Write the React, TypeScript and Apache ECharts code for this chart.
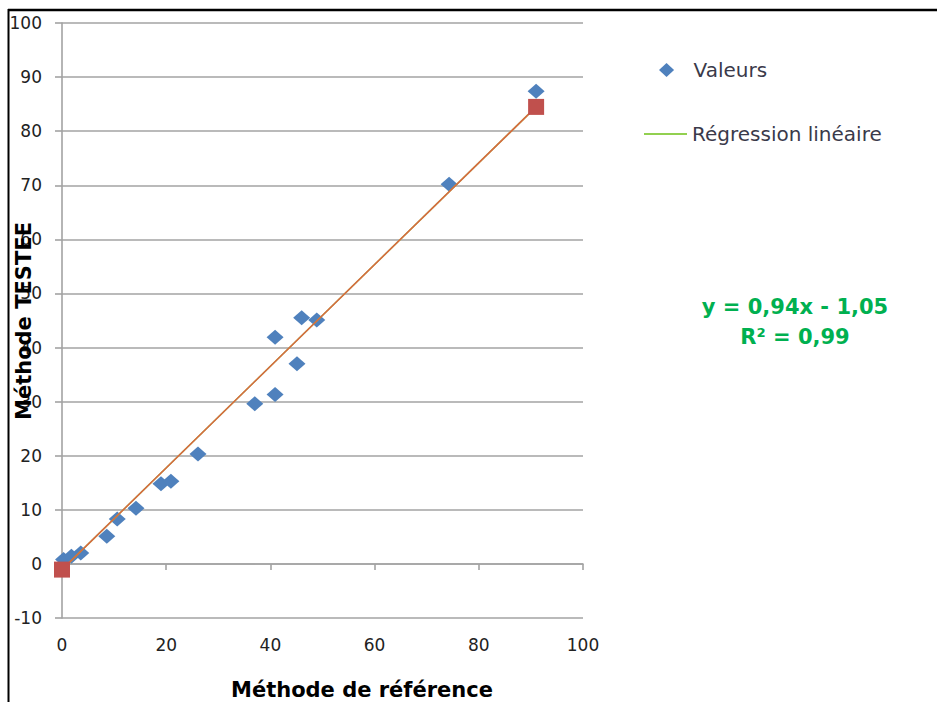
import React, { useEffect, useRef } from "react";
import * as echarts from "echarts";

// Valeurs (Méthode de référence vs Méthode TESTEE)
const refValues = [0.3, 1.8, 3.6, 8.6, 10.6, 14.2, 19.0, 20.9, 26.1, 37.0, 40.9, 40.9, 45.1, 46.0, 48.9, 74.3, 91.0];
const testValues = [0.8, 1.4, 2.0, 5.1, 8.3, 10.3, 14.8, 15.3, 20.3, 29.6, 31.3, 41.9, 37.0, 45.5, 45.1, 70.2, 87.4];

// Regression line end points (y = 0,94x - 1,05)
const regX = [0, 91];
const regY = [-1.05, 84.49];

const xTicks = { min: 0, max: 100, interval: 20 };
const yTicks = { min: -10, max: 100, interval: 10 };

const equationLines = ["y = 0,94x - 1,05", "R² = 0,99"];
const xTitle = "Méthode de référence";
const yTitle = "Méthode TESTEE";

const FONT = '"DejaVu Sans", Verdana, sans-serif';
const GRID_COLOR = "#a3a3a3";

export default function App() {
  const ref = useRef<HTMLDivElement>(null);

  useEffect(() => {
    if (!ref.current) return;
    const chart = echarts.init(ref.current, null, { renderer: "svg" });

    const points = refValues.map((x, i) => [x, testValues[i]]);
    const reg = regX.map((x, i) => [x, regY[i]]);

    const lineStyle = { color: GRID_COLOR, width: 1.6 };

    chart.setOption({
      animation: false,
      backgroundColor: "#ffffff",
      grid: { left: 62, right: 354, top: 23, bottom: 84, containLabel: false },
      legend: [
        {
          data: [{ name: "Valeurs", icon: "path://M7,0 L14,6.5 L7,13 L0,6.5 Z" }],
          left: 659,
          top: 60,
          padding: 0,
          itemWidth: 44,
          itemHeight: 14,
          symbolKeepAspect: true,
          selectedMode: false,
          textStyle: { fontFamily: FONT, fontSize: 20, color: "#3a3a4a" },
        },
        {
          data: [{ name: "Régression linéaire", icon: "rect" }],
          left: 644,
          top: 124,
          padding: 0,
          itemWidth: 43,
          itemHeight: 2,
          selectedMode: false,
          textStyle: { fontFamily: FONT, fontSize: 20, color: "#3a3a4a" },
        },
      ],
      xAxis: [
        {
          type: "value",
          min: xTicks.min,
          max: xTicks.max,
          interval: xTicks.interval,
          position: "bottom",
          axisLine: { show: true, onZero: true, lineStyle },
          axisTick: { show: true, length: 6, lineStyle },
          axisLabel: { show: false },
          splitLine: { show: false },
        },
        {
          type: "value",
          min: xTicks.min,
          max: xTicks.max,
          interval: xTicks.interval,
          position: "bottom",
          axisLine: { show: false, onZero: false },
          axisTick: { show: false },
          axisLabel: { show: true, margin: 18, fontFamily: FONT, fontSize: 17, color: "#222" },
          splitLine: { show: false },
        },
      ],
      yAxis: {
        type: "value",
        min: yTicks.min,
        max: yTicks.max,
        interval: yTicks.interval,
        axisLine: { show: true, lineStyle },
        axisTick: { show: true, length: 7, lineStyle },
        axisLabel: { margin: 20, fontFamily: FONT, fontSize: 17, color: "#222" },
        splitLine: { show: true, lineStyle },
      },
      series: [
        {
          name: "Valeurs",
          type: "scatter",
          xAxisIndex: 0,
          data: points,
          symbol: "diamond",
          symbolSize: [17, 15],
          itemStyle: { color: "#4f81bd", opacity: 1 },
          z: 3,
        },
        {
          name: "Régression linéaire",
          type: "line",
          xAxisIndex: 0,
          data: reg,
          symbol: "none",
          lineStyle: { color: "#92d050", width: 1.5 },
          itemStyle: { color: "#92d050" },
          z: 4,
        },
        {
          name: "Extrémités",
          type: "line",
          xAxisIndex: 0,
          data: reg,
          symbol: "rect",
          symbolSize: 16,
          itemStyle: { color: "#c0504d", opacity: 1 },
          lineStyle: { color: "#d9673f", width: 1.5 },
          z: 5,
        },
      ],
      graphic: [
        {
          type: "line",
          shape: { x1: 8, y1: 10, x2: 937, y2: 10 },
          style: { stroke: "#000", lineWidth: 2.5 },
          z: 100,
        },
        {
          type: "line",
          shape: { x1: 8.5, y1: 9, x2: 8.5, y2: 702 },
          style: { stroke: "#000", lineWidth: 2 },
          z: 100,
        },
        {
          type: "text",
          x: 24,
          y: 321,
          rotation: Math.PI / 2,
          z: 100,
          style: {
            text: yTitle,
            font: `bold 21px ${FONT}`,
            fill: "#000",
            align: "center",
            verticalAlign: "middle",
          },
        },
        {
          type: "text",
          x: 362,
          y: 690,
          z: 100,
          style: {
            text: xTitle,
            font: `bold 21px ${FONT}`,
            fill: "#000",
            align: "center",
            verticalAlign: "middle",
          },
        },
        {
          type: "text",
          x: 795,
          y: 307,
          z: 100,
          style: {
            text: equationLines[0],
            font: `bold 21px ${FONT}`,
            fill: "#00b050",
            align: "center",
            verticalAlign: "middle",
          },
        },
        {
          type: "text",
          x: 795,
          y: 337,
          z: 100,
          style: {
            text: equationLines[1],
            font: `bold 21px ${FONT}`,
            fill: "#00b050",
            align: "center",
            verticalAlign: "middle",
          },
        },
      ],
    });

    return () => chart.dispose();
  }, []);

  return (
    <div
      ref={ref}
      style={{ position: "fixed", left: 0, top: 0, width: 937, height: 702, background: "#fff" }}
    />
  );
}
